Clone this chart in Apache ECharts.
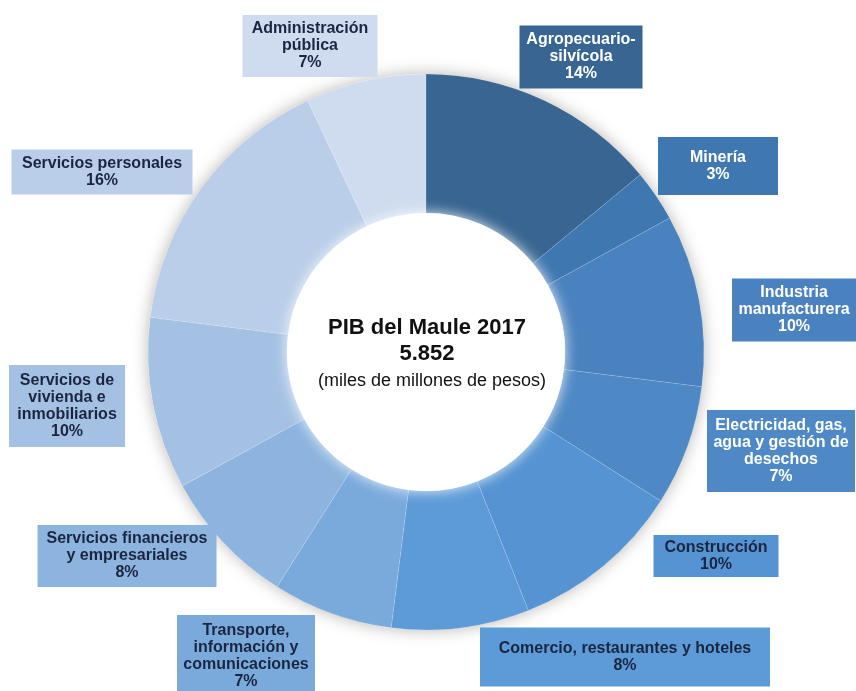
<head>
    <meta charset="utf-8">
    <title>PIB del Maule 2017</title>
    <script src="https://cdn.jsdelivr.net/npm/echarts@6/dist/echarts.min.js"></script>
</head>

<body style="margin:0">
    <div id="main" style="width: 856px; height: 691px;"></div>

    <script type="text/javascript">

        const sectores = [
            'Agropecuario-\nsilvícola',
            'Minería',
            'Industria\nmanufacturera',
            'Electricidad, gas,\nagua y gestión de\ndesechos',
            'Construcción',
            'Comercio, restaurantes y hoteles',
            'Transporte,\ninformación y\ncomunicaciones',
            'Servicios financieros\ny empresariales',
            'Servicios de\nvivienda e\ninmobiliarios',
            'Servicios personales',
            'Administración\npública'
        ]
        const porcentajes = [14, 3, 10, 7, 10, 8, 7, 8, 10, 16, 7]

        const colores = ['#386591', '#3f77b0', '#4a82bf', '#4e89c6', '#5593d2', '#5d9bd8',
            '#7aa9dc', '#8cb4df', '#a4c1e4', '#bacee9', '#cfdcef']
        const colorTexto = ['#fff', '#fff', '#fff', '#fff', '#1c2540', '#1c2540',
            '#1c2540', '#1c2540', '#1c2540', '#1c2540', '#1c2540']
        // caja de cada etiqueta: centro x, centro y, ancho, alto
        const cajas = [
            [581, 57, 123, 63], [718, 166, 120, 58], [794, 310, 124, 63],
            [781, 451, 148, 82], [716, 556, 125, 42], [625, 657, 290, 59],
            [246, 656, 138, 82], [127, 556, 179, 62], [67, 406, 116, 82],
            [102, 172, 181, 45], [310, 46, 135, 62]
        ]

        const centro = [426, 352]
        const rInt = 139, rExt = 278
        const lh = 17

        var myChart = echarts.init(document.getElementById('main'));

        const datos = sectores.map((s, i) => {
            const lineas = s.split('\n').length + 1
            const c = cajas[i]
            return {
                name: s,
                value: porcentajes[i],
                itemStyle: { color: colores[i] },
                label: {
                    color: colorTexto[i],
                    backgroundColor: colores[i],
                    width: c[2] - 2,
                    overflow: 'none',
                    padding: [Math.max(2, (c[3] - lineas * lh) / 2), 1]
                }
            }
        })

        option = {
            backgroundColor: '#fff',
            graphic: [
                { type: 'text', z: 100, x: centro[0] + 1, y: 328, style: { text: 'PIB del Maule 2017', font: 'bold 22px "Liberation Sans", Arial', fill: '#111', align: 'center', verticalAlign: 'middle' } },
                { type: 'text', z: 100, x: centro[0] + 1, y: 354, style: { text: '5.852', font: 'bold 22px "Liberation Sans", Arial', fill: '#111', align: 'center', verticalAlign: 'middle' } },
                { type: 'text', z: 100, x: centro[0] + 6, y: 381, style: { text: '(miles de millones de pesos)', font: '18px "Liberation Sans", Arial', fill: '#111', align: 'center', verticalAlign: 'middle' } }
            ],
            series: [
                {
                    type: 'pie',
                    z: 1,
                    silent: true,
                    center: centro,
                    radius: [rInt, rExt],
                    label: { show: false },
                    labelLine: { show: false },
                    itemStyle: { color: '#fff', shadowBlur: 16, shadowColor: 'rgba(60,50,40,0.35)' },
                    data: [1]
                },
                {
                    type: 'pie',
                    z: 2,
                    silent: true,
                    center: centro,
                    radius: [rInt, rExt],
                    startAngle: 90,
                    avoidLabelOverlap: false,
                    itemStyle: { borderColor: 'rgba(255,255,255,0.12)', borderWidth: 1 },
                    label: {
                        show: true,
                        position: 'outside',
                        formatter: '{b}\n{c}%',
                        fontFamily: '"Liberation Sans", Arial',
                        fontWeight: 'bold',
                        fontSize: 16,
                        lineHeight: lh,
                        align: 'center',
                        overflow: 'none'
                    },
                    labelLine: { show: false },
                    labelLayout: function (p) {
                        const c = cajas[p.dataIndex]
                        return { x: c[0], y: c[1], align: 'center', verticalAlign: 'middle' }
                    },
                    data: datos
                },
                {
                    type: 'pie',
                    z: 3,
                    silent: true,
                    center: centro,
                    radius: [0, rInt],
                    label: { show: false },
                    labelLine: { show: false },
                    itemStyle: { color: '#fff', shadowBlur: 14, shadowColor: 'rgba(255,255,255,0.9)' },
                    data: [1]
                }
            ]
        };

        myChart.setOption(option);
    </script>
</body>
